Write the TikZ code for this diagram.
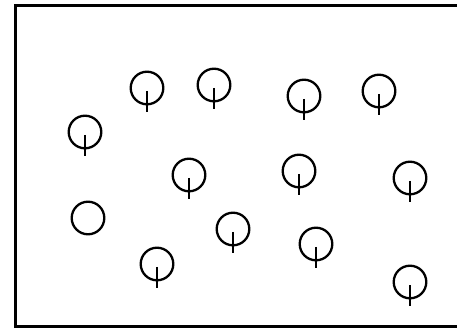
\documentclass[tikz,border=0pt]{standalone}
\usetikzlibrary{positioning}

\begin{document}
\begin{tikzpicture}[x=1pt,y=-1pt]

\definecolor{inkcol}{RGB}{0,0,0}

\def\rad{16.3}  % tree crown radius
\def\stemtop{3}   % stem starts below centre
\def\stembot{24}  % stem ends below centre

\tikzset{
  tree/.style={circle, draw=inkcol, line width=2.3pt, inner sep=0pt,
    minimum size={2*\rad pt}},
  stem/.style={draw=inkcol, line width=2.4pt},
  frame/.style={draw=inkcol, line width=3pt}
}

% ---------------- canvas ----------------
\useasboundingbox (0,0) rectangle (457,328);
\clip (0,0) rectangle (457,328);
\draw[frame] (15.5,5.5) rectangle (470,326.5);

% ---------------- trees with stems ----------------
\foreach \n/\x/\y in {a/147/88, b/214/85, c/304/96, d/379/91,
    e/85/132, f/189/175, g/299/171, h/410/178,
    j/233/229, k/316/244, l/157/264, m/410/282} {
  \node[tree] (tree-\n) at (\x,\y) {};
  \draw[stem] ([yshift=-\stemtop pt]tree-\n.center) -- ([yshift=-\stembot pt]tree-\n.center);
}

% ---------------- tree without stem ----------------
\node[tree] (tree-i) at (88,218) {};

\end{tikzpicture}
\end{document}
